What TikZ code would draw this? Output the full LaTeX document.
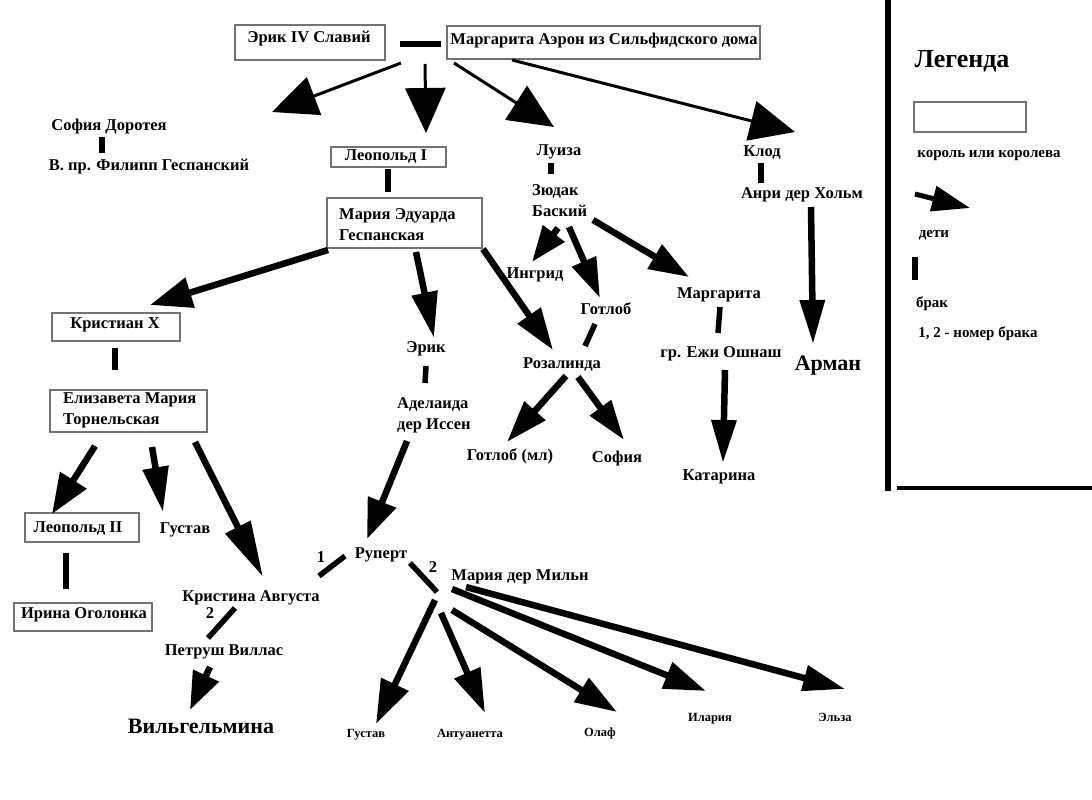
\documentclass[tikz,border=0pt]{standalone}
\usepackage{fontspec}
\setmainfont{Liberation Serif}
\usetikzlibrary{arrows.meta}
\begin{document}
\begin{tikzpicture}[x=1pt,y=-1pt,
  lbl/.style={font=\bfseries\fontsize{16.5}{20.5}\selectfont, inner sep=0pt, anchor=base},
  lbll/.style={font=\bfseries\fontsize{16.5}{20.5}\selectfont, inner sep=0pt, anchor=base west, align=left},
  small/.style={font=\bfseries\fontsize{12.5}{14}\selectfont, inner sep=0pt, anchor=base},
  big/.style={font=\bfseries\fontsize{22}{24}\selectfont, inner sep=0pt, anchor=base},
  leg/.style={font=\bfseries\fontsize{15}{17}\selectfont, inner sep=0pt, anchor=base},
  legtitle/.style={font=\bfseries\fontsize{26}{28}\selectfont, inner sep=0pt, anchor=base},
  box/.style={draw=black!55, line width=1.2pt, inner sep=0pt},
  bond/.style={line width=5.5pt},
  thinarr/.style={line width=3pt, -{Triangle[length=45pt,width=40pt]}},
  arr/.style={line width=6.5pt, -{Triangle[length=#1]}},
  arr/.default={40pt,width=24pt}
]
\useasboundingbox (0,0) rectangle (1092,800);
\fill[white] (0,0) rectangle (1092,800);

% ---------- boxes ----------
\node[box, minimum width=150, minimum height=35] (bEric) at (310,42.5) {};
\node[box, minimum width=313, minimum height=33] (bMarg) at (603.5,42.5) {};
\node[box, minimum width=115, minimum height=20] (bLeo1) at (388.5,157) {};
\node[box, minimum width=155, minimum height=50] (bMariaEd) at (404.5,223) {};
\node[box, minimum width=128, minimum height=28] (bKrist) at (116,327) {};
\node[box, minimum width=157, minimum height=42] (bEliz) at (128.5,411) {};
\node[box, minimum width=114, minimum height=29] (bLeo2) at (82,527.5) {};
\node[box, minimum width=138, minimum height=28] (bIrina) at (83,617) {};

% ---------- labels ----------
\node[lbl] (Eric) at (309,43) {Эрик IV Славий};
\node[lbl] (Marg) at (604,45) {Маргарита Аэрон из Сильфидского дома};
\node[lbl] (Sofia) at (109,130) {София Доротея};
\node[lbl] (Filipp) at (149,170) {В. пр. Филипп Геспанский};
\node[lbl] (Leo1) at (386,160) {Леопольд I};
\node[lbll] (MariaEd) at (339,240) {Мария Эдуарда\\Геспанская};
\node[lbl] (Luiza) at (559,155) {Луиза};
\node[lbll] (Zyudak) at (532,216) {Зюдак\\Баский};
\node[lbl] (Klod) at (762,156) {Клод};
\node[lbl] (Anri) at (802,198) {Анри дер Хольм};
\node[lbl] (Ingrid) at (535,278) {Ингрид};
\node[lbl] (Gotlob) at (606,314) {Готлоб};
\node[lbl] (Margarita) at (719,298) {Маргарита};
\node[lbl] (Ezhi) at (721,357) {гр. Ежи Ошнаш};
\node[big] (Arman) at (828,370) {Арман};
\node[lbl] (Rozalinda) at (562,368) {Розалинда};
\node[lbl] (GotlobMl) at (510,460) {Готлоб (мл)};
\node[lbl] (Sofia2) at (617,462) {София};
\node[lbl] (Katarina) at (719,480) {Катарина};
\node[lbl] (Eric2) at (426,352) {Эрик};
\node[lbll] (Adelaida) at (397,429) {Аделаида\\дер Иссен};
\node[lbl] (Kristian) at (115,328) {Кристиан X};
\node[lbll] (Eliz) at (63,424) {Елизавета Мария\\Торнельская};
\node[lbl] (Leo2) at (78,532) {Леопольд II};
\node[lbl] (Gustav1) at (185,533) {Густав};
\node[lbl] (Irina) at (84,618) {Ирина Оголонка};
\node[lbl] (Kristina) at (251,601) {Кристина Августа};
\node[lbl] (n1) at (321,562) {1};
\node[lbl] (Rupert) at (381,558) {Руперт};
\node[lbl] (n2a) at (433,572) {2};
\node[lbl] (Milna) at (520,580) {Мария дер Мильн};
\node[lbl] (n2b) at (210,618) {2};
\node[lbl] (Petrush) at (224,655) {Петруш Виллас};
\node[big] (Vilg) at (201,733) {Вильгельмина};
\node[small] (Gustav2) at (366,737) {Густав};
\node[small] (Antuan) at (470,737) {Антуанетта};
\node[small] (Olaf) at (600,736) {Олаф};
\node[small] (Ilaria) at (710,721) {Илария};
\node[small] (Elza) at (835,721) {Эльза};

% ---------- marriage bonds ----------
\coordinate (mA1) at (400,44);  \coordinate (mA2) at (441,44);
\coordinate (mB1) at (102,137); \coordinate (mB2) at (102,153);
\coordinate (mC1) at (388,169); \coordinate (mC2) at (388,192);
\coordinate (mD1) at (551,163); \coordinate (mD2) at (551,174);
\coordinate (mE1) at (761,163); \coordinate (mE2) at (761,183);
\coordinate (mF1) at (115,348); \coordinate (mF2) at (115,370);
\coordinate (mG1) at (66,553);  \coordinate (mG2) at (66,589);
\coordinate (mH1) at (426,366); \coordinate (mH2) at (425,383);
\coordinate (mI1) at (595,324); \coordinate (mI2) at (585,346);
\coordinate (mJ1) at (720,307); \coordinate (mJ2) at (718,333);
\coordinate (mK1) at (319,576); \coordinate (mK2) at (345,556);
\coordinate (mL1) at (410,563); \coordinate (mL2) at (437,592);
\coordinate (mM1) at (235,608); \coordinate (mM2) at (208,638);
\foreach \m in {A,B,C,D,E,F,G,H,I,J,K,L,M} \draw[bond] (m\m1) -- (m\m2);

% ---------- top children (thin) ----------
\coordinate (t1s) at (401,63); \coordinate (t1e) at (272,112);
\coordinate (t2s) at (425,64); \coordinate (t2e) at (426,133);
\coordinate (t3s) at (454,63); \coordinate (t3e) at (554,127);
\coordinate (t4s) at (512,60); \coordinate (t4e) at (795,132);
\foreach \i in {1,2,3,4} \draw[thinarr] (t\i s) -- (t\i e);

% ---------- other children ----------
\coordinate (a1s) at (328,250); \coordinate (a1e) at (150,305);
\draw[arr={42pt,width=30pt}] (a1s) -- (a1e);
\coordinate (a2s) at (416,252); \coordinate (a2e) at (434,338);
\draw[arr={46pt,width=25pt}] (a2s) -- (a2e);
\coordinate (a3s) at (483,249); \coordinate (a3e) at (553,350);
\draw[arr={42pt,width=27pt}] (a3s) -- (a3e);
\coordinate (a4s) at (558,228); \coordinate (a4e) at (532,262);
\draw[arr={36pt,width=26pt}] (a4s) -- (a4e);
\coordinate (a5s) at (569,227); \coordinate (a5e) at (600,298);
\draw[arr={40pt,width=25pt}] (a5s) -- (a5e);
\coordinate (a6s) at (593,220); \coordinate (a6e) at (689,277);
\draw[arr={40pt,width=27pt}] (a6s) -- (a6e);
\coordinate (a7s) at (811,207); \coordinate (a7e) at (813,344);
\draw[arr={44pt,width=24pt}] (a7s) -- (a7e);
\coordinate (a8s) at (725,370); \coordinate (a8e) at (723,463);
\draw[arr={43pt,width=24pt}] (a8s) -- (a8e);
\coordinate (a9s) at (566,376); \coordinate (a9e) at (507,442);
\draw[arr={42pt,width=27pt}] (a9s) -- (a9e);
\coordinate (a10s) at (578,377); \coordinate (a10e) at (624,440);
\draw[arr={40pt,width=25pt}] (a10s) -- (a10e);
\coordinate (a11s) at (95,446); \coordinate (a11e) at (52,514);
\draw[arr={40pt,width=30pt}] (a11s) -- (a11e);
\coordinate (a12s) at (152,447); \coordinate (a12e) at (163,512);
\draw[arr={45pt,width=25pt}] (a12s) -- (a12e);
\coordinate (a13s) at (195,442); \coordinate (a13e) at (263,577);
\draw[arr={56pt,width=27pt}] (a13s) -- (a13e);
\coordinate (a14s) at (407,441); \coordinate (a14e) at (367,539);
\draw[arr={40pt,width=29pt}] (a14s) -- (a14e);
\coordinate (a15s) at (210,667); \coordinate (a15e) at (190,710);
\draw[arr={38pt,width=27pt}] (a15s) -- (a15e);
\coordinate (a16s) at (435,600); \coordinate (a16e) at (376,724);
\draw[arr={44pt,width=29pt}] (a16s) -- (a16e);
\coordinate (a17s) at (441,613); \coordinate (a17e) at (485,713);
\draw[arr={44pt,width=27pt}] (a17s) -- (a17e);
\coordinate (a18s) at (452,610); \coordinate (a18e) at (617,712);
\draw[arr={42pt,width=27pt}] (a18s) -- (a18e);
\coordinate (a19s) at (452,589); \coordinate (a19e) at (706,691);
\draw[arr={42pt,width=27pt}] (a19s) -- (a19e);
\coordinate (a20s) at (466,587); \coordinate (a20e) at (845,689);
\draw[arr={42pt,width=25pt}] (a20s) -- (a20e);

% ---------- legend ----------
\coordinate (lv1) at (888,0); \coordinate (lv2) at (888,491);
\coordinate (lh1) at (897,488); \coordinate (lh2) at (1092,488);
\draw[line width=6pt] (lv1) -- (lv2);
\draw[line width=4.5pt] (lh1) -- (lh2);
\node[legtitle] (LegT) at (962,67) {Легенда};
\node[box, minimum width=112, minimum height=30] (bLeg) at (970,117) {};
\node[leg] (LegKing) at (989,157) {король или королева};
\coordinate (la1) at (915,194); \coordinate (la2) at (970,208);
\draw[line width=5pt, -{Triangle[length=38pt,width=25pt]}] (la1) -- (la2);
\node[leg] (LegKids) at (934,237) {дети};
\coordinate (lb1) at (915,257); \coordinate (lb2) at (915,280);
\draw[bond] (lb1) -- (lb2);
\node[leg] (LegBrak) at (932,307) {брак};
\node[leg] (LegNum) at (978,337) {1, 2 - номер брака};
\end{tikzpicture}
\end{document}
